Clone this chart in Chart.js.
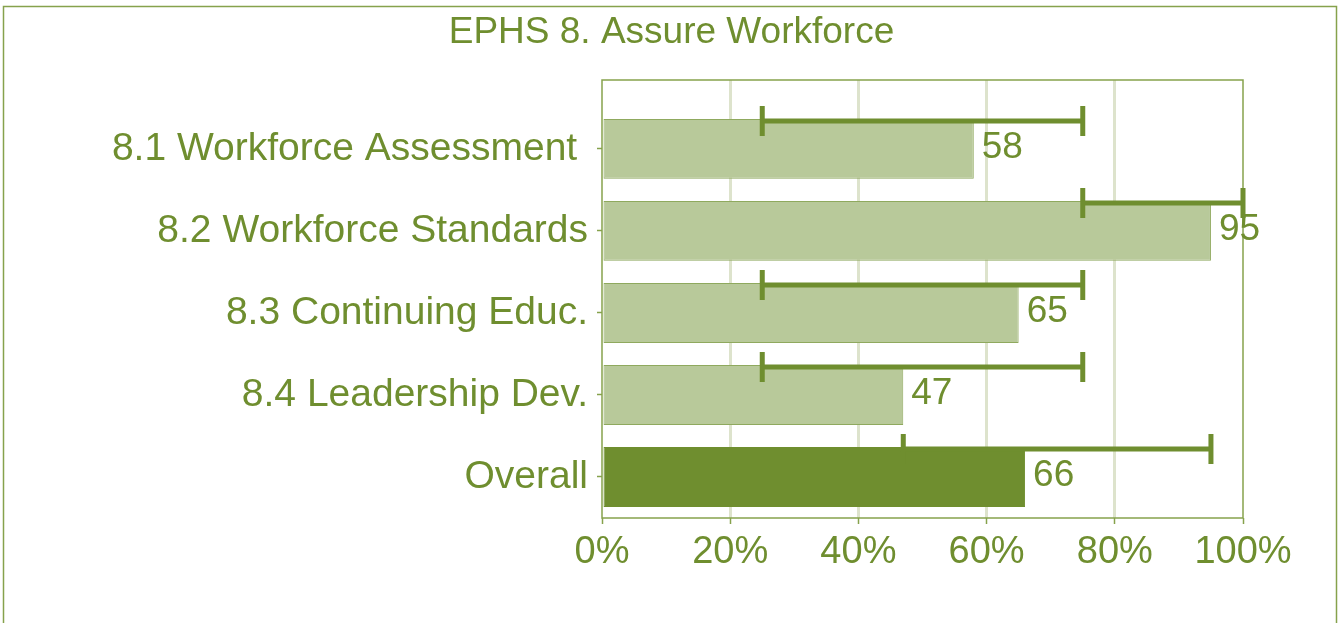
<!DOCTYPE html>
<html>
<head>
<meta charset="utf-8">
<script src="https://cdn.jsdelivr.net/npm/chart.js@4/dist/chart.umd.min.js"></script>
<style>
html,body{margin:0;padding:0;background:#fff;}
#wrap{width:1343px;height:623px;position:relative;}
</style>
</head>
<body>
<div id="wrap"><canvas id="c" width="1343" height="623"></canvas></div>
<script>
const categories = ['8.1 Workforce Assessment ', '8.2 Workforce Standards', '8.3 Continuing Educ.', '8.4 Leadership Dev.', 'Overall'];
const scores = [58, 95, 65, 47, 66];
const rangeMin = [25, 75, 25, 25, 47];
const rangeMax = [75, 100, 75, 75, 95];
const xTicks = [0, 20, 40, 60, 80, 100];

const GREEN = '#6f8e2f';
const LIGHT = '#b8c99a';
const FRAME = '#86a24c';
const GRID = '#dde3cc';
const FONT = "'Liberation Sans', Arial, sans-serif";

const frameAndExtras = {
  id: 'frameAndExtras',
  beforeDraw(chart) {
    const ctx = chart.ctx;
    ctx.save();
    ctx.fillStyle = '#fff';
    ctx.fillRect(0, 0, chart.width, chart.height);
    ctx.strokeStyle = FRAME;
    ctx.lineWidth = 1.5;
    ctx.strokeRect(3.5, 6.5, 1333, 700);
    ctx.restore();
  },
  beforeDatasetsDraw(chart) {
    const ctx = chart.ctx, a = chart.chartArea;
    ctx.save();
    ctx.strokeStyle = FRAME;
    ctx.lineWidth = 1.5;
    ctx.strokeRect(a.left, a.top, a.right - a.left, a.bottom - a.top);
    ctx.restore();
  },
  afterDatasetsDraw(chart) {
    const ctx = chart.ctx;
    const xs = chart.scales.x;
    const meta = chart.getDatasetMeta(0);
    ctx.save();
    meta.data.forEach((bar, i) => {
      const top = bar.y - bar.height / 2;
      const ly = top + 2;
      const x1 = xs.getPixelForValue(rangeMin[i]);
      const x2 = xs.getPixelForValue(rangeMax[i]);
      ctx.strokeStyle = GREEN;
      ctx.lineWidth = 5;
      ctx.lineCap = 'butt';
      ctx.beginPath();
      ctx.moveTo(x1, ly); ctx.lineTo(x2, ly);
      ctx.moveTo(x1, ly - 15); ctx.lineTo(x1, ly + 15);
      ctx.moveTo(x2, ly - 15); ctx.lineTo(x2, ly + 15);
      ctx.stroke();
      ctx.fillStyle = GREEN;
      ctx.font = '37px ' + FONT;
      ctx.textAlign = 'left';
      ctx.textBaseline = 'middle';
      ctx.fillText(String(scores[i]), bar.x + 8, bar.y - 1);
    });
    ctx.restore();
  }
};

new Chart(document.getElementById('c'), {
  type: 'bar',
  data: {
    datasets: [{
      data: scores.map((v, i) => ({ x: v, y: i })),
      backgroundColor: scores.map((v, i) => i === scores.length - 1 ? GREEN : LIGHT),
      borderColor: scores.map((v, i) => i === scores.length - 1 ? GREEN : '#8fa95e'),
      borderWidth: 1,
      borderSkipped: false,
      barPercentage: 0.73,
      categoryPercentage: 1
    }]
  },
  plugins: [frameAndExtras],
  options: {
    indexAxis: 'y',
    responsive: false,
    animation: false,
    devicePixelRatio: 1,
    layout: { padding: { left: 0, right: 0, top: 0, bottom: 0 } },
    plugins: {
      legend: { display: false },
      tooltip: { enabled: false },
      title: {
        display: true,
        text: 'EPHS 8. Assure Workforce',
        color: GREEN,
        font: { family: FONT, size: 37, weight: 'normal' },
        padding: { top: 11, bottom: 24.6 }
      }
    },
    scales: {
      x: {
        type: 'linear',
        min: 0, max: 100,
        afterBuildTicks: s => { s.ticks = xTicks.map(v => ({ value: v })); },
        afterFit: s => { s.height = 105; },
        ticks: {
          color: GREEN,
          font: { family: FONT, size: 38 },
          padding: 6,
          callback: v => v + '%'
        },
        grid: {
          color: c => (c.tick && (c.tick.value === 0 || c.tick.value === 100)) ? 'rgba(0,0,0,0)' : GRID,
          lineWidth: 3,
          tickColor: FRAME,
          tickLength: 6,
          tickWidth: 1.5
        },
        border: { display: false }
      },
      y: {
        type: 'linear',
        reverse: true,
        offset: false,
        min: -0.84, max: 4.5,
        afterBuildTicks: s => { s.ticks = categories.map((c, i) => ({ value: i })); },
        afterFit: s => { s.width = 602; },
        ticks: {
          color: GREEN,
          font: { family: FONT, size: 39 },
          padding: 9,
          autoSkip: false,
          callback: v => categories[v]
        },
        grid: {
          offset: false,
          drawOnChartArea: false,
          tickColor: FRAME,
          tickLength: 5,
          tickWidth: 1.5
        },
        border: { display: false }
      },
      yRightSpace: {
        type: 'linear',
        position: 'right',
        display: true,
        min: 0, max: 1,
        afterFit: s => { s.width = 100; },
        ticks: { display: false },
        grid: { display: false, drawTicks: false },
        border: { display: false }
      }
    }
  }
});
</script>
</body>
</html>
